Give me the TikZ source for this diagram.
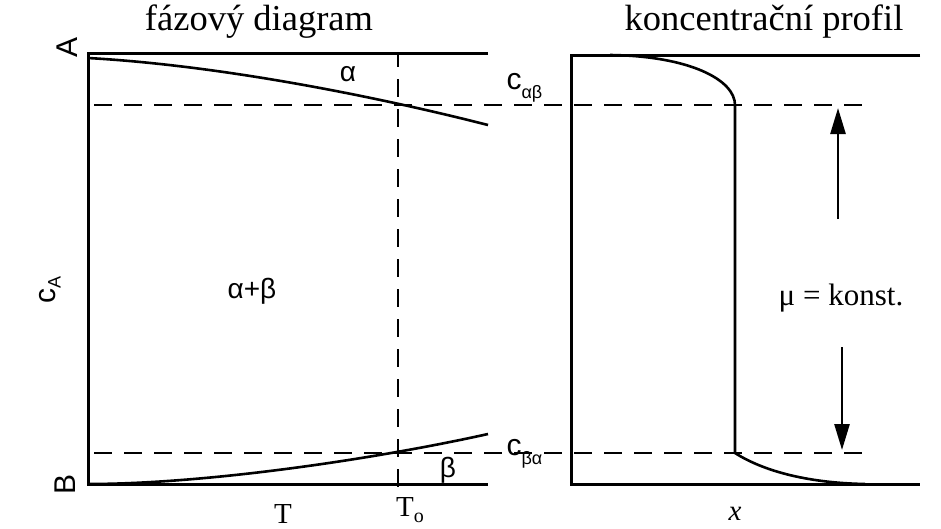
\documentclass[tikz,border=0pt]{standalone}
\usepackage{fontspec}
\setmainfont{Liberation Serif}
\newfontfamily\lblsans{Liberation Sans}
\usetikzlibrary{arrows.meta}
\begin{document}
\begin{tikzpicture}[x=1pt,y=-1pt,
  axis/.style={line width=3pt},
  curve/.style={line width=2.6pt},
  dashline/.style={line width=2.8pt,dash pattern=on 18pt off 12pt},
  title/.style={font=\fontsize{36.5}{36.5}\selectfont},
  lbl/.style={font=\lblsans\fontsize{30}{30}\selectfont},
  glbl/.style={font=\lblsans\fontsize{28}{28}\selectfont},
  slbl/.style={font=\fontsize{29}{29}\selectfont},
  arr/.style={line width=2.6pt,-{Triangle[length=26pt,width=15pt]}}]
\useasboundingbox (0,0) rectangle (941,528);
% titles
\node[title] (t1) at (259,22) {fázový diagram};
\node[title] (t2) at (764,22) {koncentrační profil};
% left panel coordinates
\coordinate (LT) at (88,53);
\coordinate (LB) at (88,484);
\coordinate (LTR) at (488,53);
\coordinate (LBR) at (488,484);
\draw[axis] (LTR) -- (LT) -- (LB) -- (LBR);
% vertical dashed T0
\coordinate (V1) at (398,53);
\coordinate (V2) at (398,492);
\draw[dashline,dash phase=4pt] (V1) -- (V2);
% horizontal dashed lines
\coordinate (H1a) at (88,105);
\coordinate (H1b) at (862,105);
\coordinate (H2a) at (88,453);
\coordinate (H2b) at (862,453);
\draw[dashline,dash phase=-6pt] (H1a) -- (H1b);
\draw[dashline,dash phase=-6pt] (H2a) -- (H2b);
% phase boundary curves
\coordinate (U0) at (88,58);
\coordinate (U1) at (488,125);
\draw[curve] (U0) .. controls (230,66) and (390,100) .. (U1);
\coordinate (D0) at (88,484);
\coordinate (D1) at (488,434);
\draw[curve] (D0) .. controls (210,484) and (380,458) .. (D1);
% labels left
\node[lbl,rotate=90] (A) at (67,47) {A};
\node[lbl,rotate=90] (B) at (65,484) {B};
\node[lbl,rotate=90,anchor=center] (cA) at (50,290) {c\raisebox{-5pt}{\fontsize{18}{18}\selectfont A}};
\node[glbl] (al) at (348,74) {α};
\node[glbl] (ab) at (252,291) {α+β};
\node[glbl] (be) at (448,470) {β};
\node[lbl,anchor=south west] (cab) at (503,106) {c\raisebox{-9pt}{\fontsize{18}{18}\selectfont αβ}};
\node[lbl,anchor=south west] (cba) at (503,472) {c\raisebox{-9pt}{\fontsize{18}{18}\selectfont βα}};
\node[slbl] (T) at (283,514) {T};
\node[slbl] (To) at (410,510) {T\raisebox{-6pt}{\fontsize{20}{20}\selectfont o}};
% right panel
\coordinate (RT) at (571,55);
\coordinate (RB) at (571,484);
\coordinate (RTR) at (920,55);
\coordinate (RBR) at (920,484);
\draw[axis] (RTR) -- (RT) -- (RB) -- (RBR);
\coordinate (P0) at (610,55);
\coordinate (P1) at (735,105);
\coordinate (P2) at (735,453);
\coordinate (P3) at (865,484);
\draw[curve] (P0) .. controls (690,56) and (735,80) .. (P1) -- (P2) .. controls (765,472) and (810,483) .. (P3);
% arrows
\coordinate (AU0) at (838,219);
\coordinate (AU1) at (838,108);
\coordinate (AD0) at (842,347);
\coordinate (AD1) at (842,450);
\draw[arr] (AU0) -- (AU1);
\draw[arr] (AD0) -- (AD1);
\node[font=\fontsize{31}{31}\selectfont] (mu) at (841,298) {μ = konst.};
\node[slbl] (xl) at (735,514) {\textit{x}};
\end{tikzpicture}
\end{document}
